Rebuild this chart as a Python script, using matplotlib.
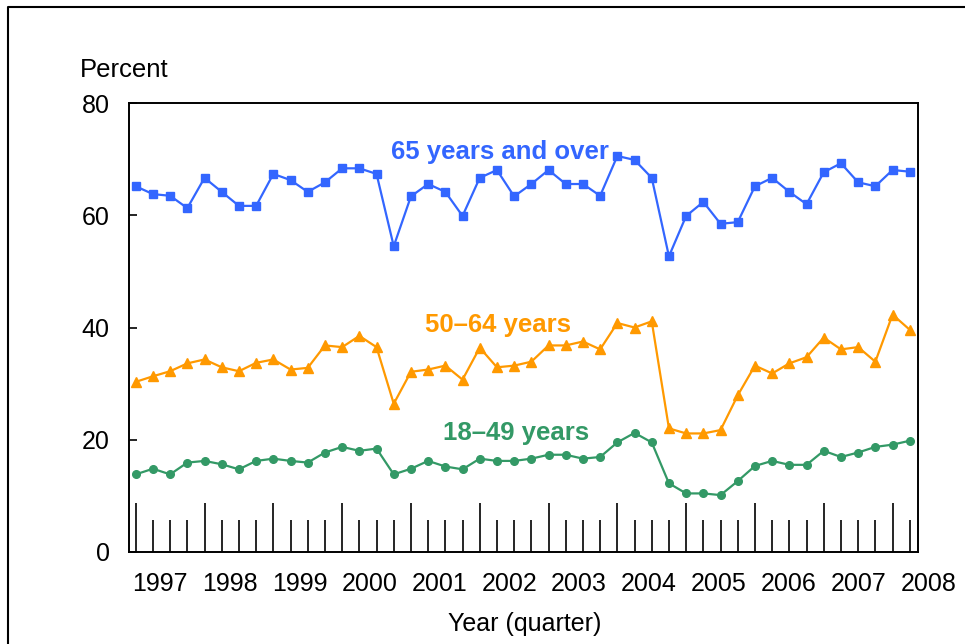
import numpy as np
import matplotlib
matplotlib.use("Agg")
import matplotlib.pyplot as plt
from matplotlib.lines import Line2D

plt.rcParams['font.family'] = ['Liberation Sans', 'DejaVu Sans']

# quarterly values, 1997 Q1 .. 2008 Q2
over65 = [65.2, 63.8, 63.5, 61.3, 66.7, 64.2, 61.7, 61.7, 67.4, 66.3, 64.2, 65.9,
          68.4, 68.4, 67.4, 54.5, 63.4, 65.6, 64.2, 59.9, 66.7, 68.1, 63.4, 65.6,
          68.1, 65.6, 65.6, 63.5, 70.6, 69.9, 66.7, 52.7, 59.9, 62.4, 58.5, 58.8,
          65.2, 66.7, 64.2, 62.0, 67.7, 69.3, 65.9, 65.2, 68.1, 67.8]
age50_64 = [30.3, 31.3, 32.2, 33.6, 34.3, 32.9, 32.2, 33.7, 34.3, 32.5, 32.8, 36.8,
            36.5, 38.5, 36.5, 26.4, 32.1, 32.5, 33.2, 30.7, 36.4, 32.9, 33.2, 33.9,
            36.8, 36.8, 37.5, 36.1, 40.8, 40.0, 41.1, 22.0, 21.1, 21.1, 21.7, 27.9,
            33.2, 31.8, 33.6, 34.7, 38.2, 36.1, 36.5, 33.9, 42.3, 39.6]
age18_49 = [13.8, 14.8, 13.8, 15.9, 16.2, 15.6, 14.7, 16.2, 16.6, 16.2, 15.9, 17.7,
            18.7, 18.0, 18.4, 13.8, 14.8, 16.2, 15.2, 14.7, 16.6, 16.2, 16.2, 16.6,
            17.3, 17.3, 16.6, 16.9, 19.5, 21.2, 19.5, 12.2, 10.4, 10.4, 10.1, 12.6,
            15.3, 16.2, 15.5, 15.5, 18.0, 16.9, 17.7, 18.7, 19.1, 19.8]
years = [str(y) for y in range(1997, 2009)]
yticks = [0, 20, 40, 60, 80]

blue = '#3366FF'
orange = '#FF9900'
green = '#339966'

fig = plt.figure(figsize=(9.65, 6.44), dpi=100)
ax = fig.add_axes([0.1337, 0.1433, 0.8176, 0.6963])

x = np.arange(len(over65))
ax.plot(x, over65, color=blue, lw=1.6, marker='s', ms=5.5, clip_on=False)
ax.plot(x, age50_64, color=orange, lw=1.6, marker='^', ms=7, clip_on=False)
ax.plot(x, age18_49, color=green, lw=1.6, marker='o', ms=5.5, clip_on=False)

ax.set_xlim(-0.39, 45.48)
ax.set_ylim(0, 80)

# year ticks (long) and quarter ticks (short), drawn inward
ax.set_xticks(x[::4])
ax.set_xticks([i for i in x if i % 4], minor=True)
ax.tick_params(axis='x', which='major', direction='in', length=35, width=1.2,
               labelbottom=False)
ax.tick_params(axis='x', which='minor', direction='in', length=23, width=1.2)
for i, yr in enumerate(years):
    ax.text(1.42 + i * 4.06, -0.072, yr, transform=ax.get_xaxis_transform(),
            ha='center', va='center', fontsize=18)

ax.set_yticks(yticks)
ax.tick_params(axis='y', direction='in', length=6, width=1.2, pad=14, labelsize=18)

for s in ax.spines.values():
    s.set_linewidth(1.4)
    s.set_color('black')

ax.text(21.2, 71.4, '65 years and over', color=blue, fontsize=18.5,
        fontweight='bold', ha='center', va='center')
ax.text(21.06, 40.4, '50\u201364 years', color=orange, fontsize=18.5,
        fontweight='bold', ha='center', va='center')
ax.text(22.1, 21.2, '18\u201349 years', color=green, fontsize=18.5,
        fontweight='bold', ha='center', va='center')

fig.text(80 / 965, 1 - 77 / 644, 'Percent', fontsize=18.5, ha='left', va='baseline')
fig.text(525 / 965, 1 - 624 / 644, 'Year (quarter)', fontsize=18,
         ha='center', va='center')

# outer frame (left and top edges)
fig.add_artist(Line2D([8 / 965, 8 / 965, 1.0], [0.0, 1 - 7 / 644, 1 - 7 / 644],
                      transform=fig.transFigure, color='black', lw=1.5))

fig.savefig('out.png', dpi=100)
